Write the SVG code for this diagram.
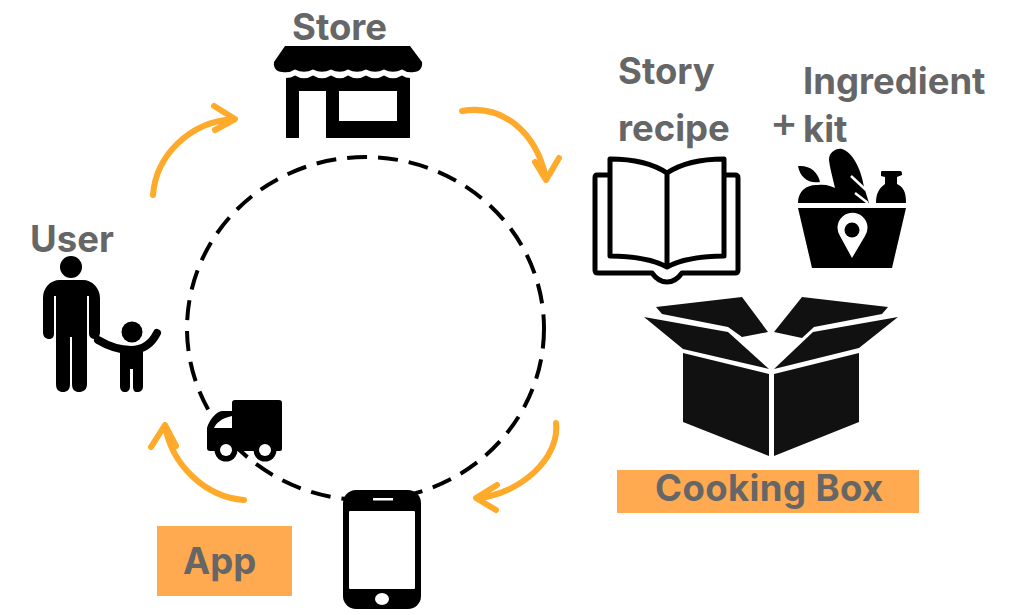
<svg xmlns="http://www.w3.org/2000/svg" width="1014" height="615" viewBox="0 0 1014 615">
<style>
text{font-family:"Inter","Liberation Sans",sans-serif;font-weight:700;fill:#666;font-size:36.500px}
.arr{fill:none;stroke:#FFAA2B;stroke-width:6;stroke-linecap:round;stroke-linejoin:round}
.lbl{fill:#FFA950}
.w{fill:#fff}
.b{fill:#000}
.box{fill:#111}
</style>
<rect width="1014" height="615" fill="#fff"/>
<g id="connectors">
<ellipse cx="365.500" cy="328.500" rx="178.500" ry="171.500" fill="none" stroke="#000" stroke-width="4" stroke-dasharray="20 11"/>
<path class="arr" d="M462,111C503,104 536,132 546,178M535,162L546,180L559,158"/>
<path class="arr" d="M556,423C560,458 520,494 478,498M497,485L476,498L496,510"/>
<path class="arr" d="M244,500C205,497 172,465 165,426M151,447L165,425L176,446"/>
<path class="arr" d="M153,195C156,155 190,122 233,119M214,106L235,119L215,130"/>
</g>
<g id="store">
<text x="292" y="40">Store</text>
<path class="b" d="M285,46H410L422,62C423,68 419,72 414,72Q407,73 402,69.500Q393,74 384,69.500Q375,74 366,69.500Q357,74 348,69.500Q340,74 331,69.500Q322,74 313,69.500Q304,74 295,69.500Q290,73 282,72C277,72 273,68 274,62Z"/>
<path class="b" fill-rule="evenodd" d="M286,78Q291,78 295,75.500Q304,81 313,75.500Q322,81 331,75.500Q340,81 348,75.500Q357,81 366,75.500Q375,81 384,75.500Q393,81 402,75.500Q406,78 410,78V138H326V91H299V138H286ZM339,91V121H397V91Z"/>
</g>
<g id="story-recipe">
<text x="618" y="84">Story</text>
<text x="618" y="141">recipe</text>
<path d="M608,175H597Q595,175 595,178V270Q595,273 598,273H652C657,280 662,282 667,282C672,282 677,280 682,273H735Q738,273 738,270V178Q738,175 735,175H724" fill="none" stroke="#000" stroke-width="5" stroke-linejoin="round"/>
<path d="M610,159C630,159 652,163 667,173C682,163 704,159 724,159V256C704,256 682,259 667,267C652,259 630,256 610,256ZM667,173V267" fill="#fff" stroke="#000" stroke-width="5" stroke-linejoin="round"/>
</g>
<g id="ingredient-kit">
<text x="803" y="94">Ingredient</text>
<text x="803" y="142">kit</text>
<text x="770" y="137" style="font-size:42px;font-weight:500">+</text>
<path class="b" d="M798,203C798,190 808,184 818,185C825,184 833,186 838,190L842,203Z"/>
<path class="b" d="M829,160C829,152 836,148 842,149C852,152 861,168 864,187L869,203H838C835,185 830,170 829,160Z"/>
<path d="M851,176L866,190M855,193L868,203" stroke="#fff" stroke-width="2.500" fill="none"/>
<path class="b" d="M798,166C810,165 818,172 820,182C808,184 800,177 798,166Z"/>
<path class="b" d="M876,203C876,192 880,188 885,184V177L881,176V172C881,171 882,171 883,171H900C902,171 902,173 902,175L897,177V184C903,187 906,191 906,203Z"/>
<path class="b" d="M798,208H906L892,268H812Z"/>
<path class="w" d="M852,258L840,236A15,15 0 1 1 865,236Z"/>
<circle class="b" cx="852" cy="230" r="7.500"/>
</g>
<g id="cooking-box">
<polygon class="box" points="656,307 742,297 768,332 742,337 728,327 662,314"/>
<polygon class="box" points="802,297 888,307 882,314 814,327 802,338 774,332"/>
<polygon class="box" points="644,317 728,332 769,369 683,349"/>
<polygon class="box" points="898,317 813,332 774,369 859,348"/>
<polygon class="box" points="683,353 769,374 769,456 683,422"/>
<polygon class="box" points="774,374 859,353 859,422 774,456"/>
<rect class="lbl" x="617" y="470" width="302" height="43"/>
<text x="655" y="501" style="letter-spacing:.4px">Cooking Box</text>
</g>
<g id="phone">
<rect class="b" x="343" y="490" width="78" height="119" rx="13"/>
<rect class="w" x="349" y="511" width="66" height="78" rx="1"/>
<rect class="w" x="373" y="498" width="20" height="2.500"/>
<ellipse class="w" cx="382" cy="599" rx="7" ry="6"/>
<rect class="lbl" x="157" y="526" width="135" height="70"/>
<text x="183" y="574">App</text>
</g>
<g id="truck">
<path class="b" d="M232,403Q232,400 235,400H279Q282,400 282,403V449Q282,451 280,451H210Q207,451 207,448V428C209,420 217,411 222,411H232Z"/>
<path class="w" d="M214,428C216,423 222,418 232,416V428Z"/>
<circle class="b" cx="226" cy="450" r="11.500"/><circle class="w" cx="226" cy="450" r="6"/>
<circle class="b" cx="265" cy="450" r="11.500"/><circle class="w" cx="265" cy="450" r="6"/>
</g>
<g id="user">
<text x="30" y="252">User</text>
<circle class="b" cx="71" cy="267" r="11"/>
<path class="b" d="M60,280H83C92,280 100,288 100,298V332C100,337 97,339 95,339C92,339 89,337 89,334V296H87V384C87,390 83,392 79,392C75,392 72,390 72,384V337H70V384C70,390 67,392 63,392C59,392 56,390 56,384V296H54V334C54,337 52,339 49,339C46,339 43,337 43,332V298C43,288 50,280 60,280Z"/>
<circle class="b" cx="132" cy="332" r="10.500"/>
<path d="M98,340C108,346 120,350 131,350C144,350 152,343 157,333" fill="none" stroke="#000" stroke-width="8" stroke-linecap="round"/>
<path class="b" d="M120,350H143V386C143,390 141,392 137,392C134,392 133,390 133,386V369H130V386C130,390 128,392 125,392C122,392 120,390 120,386Z"/>
</g>
</svg>
